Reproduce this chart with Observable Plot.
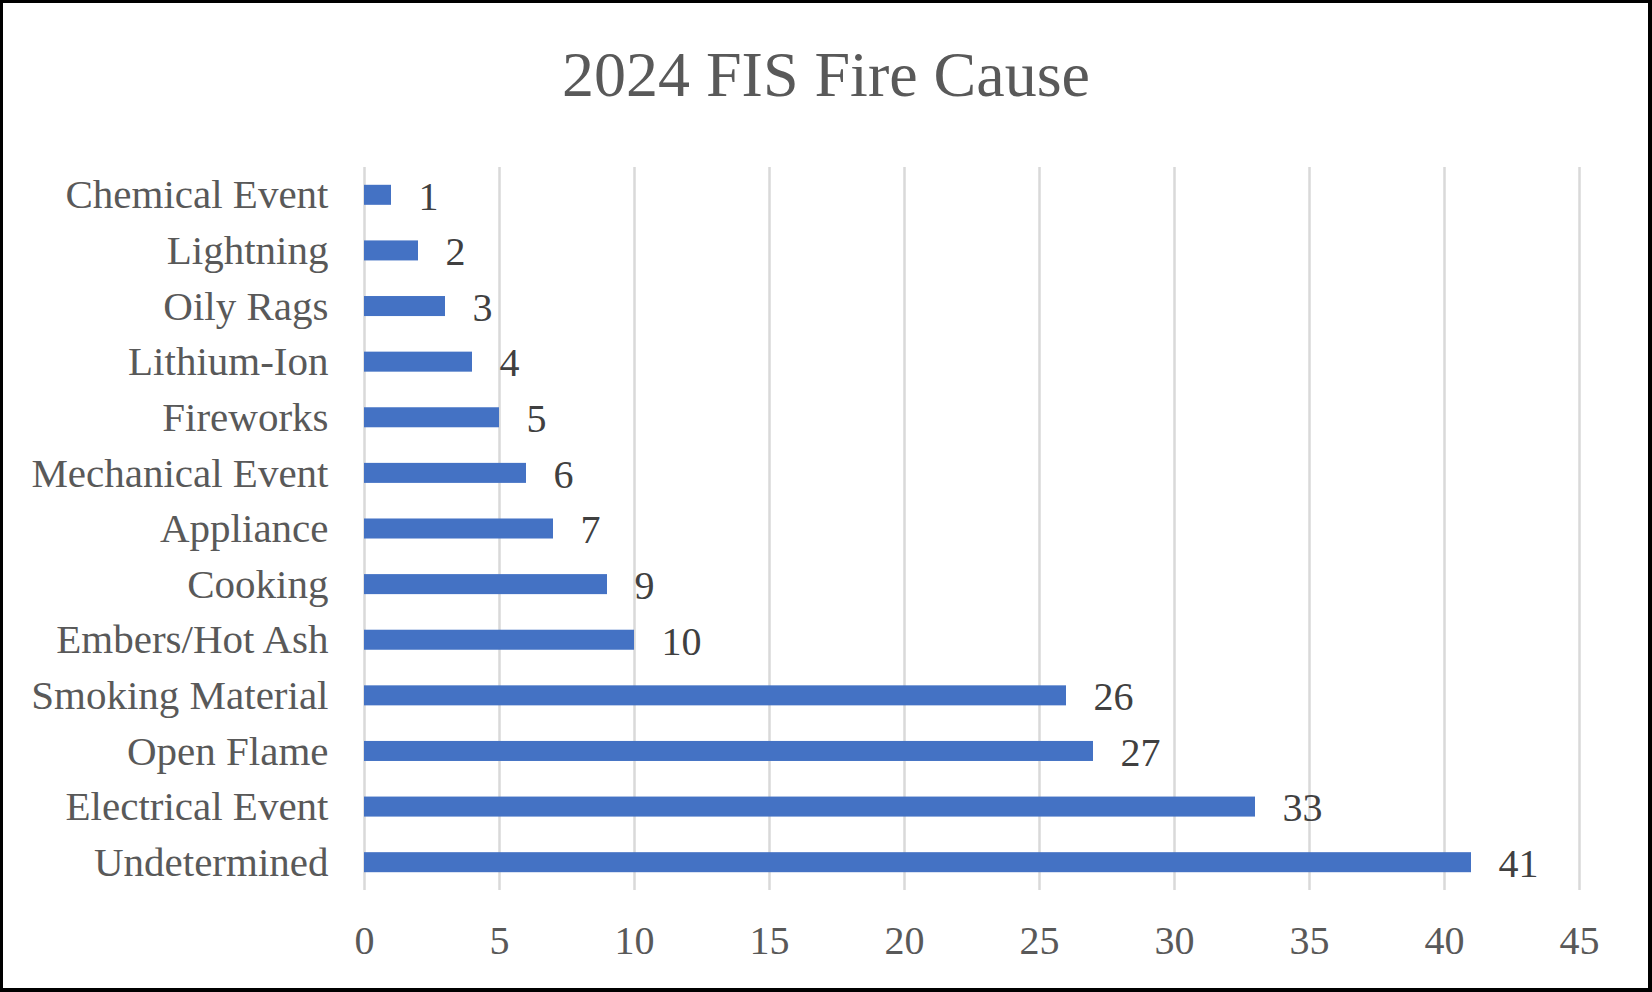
<!DOCTYPE html>
<html>
<head>
<meta charset="utf-8">
<script src="https://cdn.jsdelivr.net/npm/d3@7"></script>
<script src="https://cdn.jsdelivr.net/npm/@observablehq/plot@0.6"></script>
<style>
  html, body { margin: 0; padding: 0; background: #fff; }
  #wrap { position: relative; width: 1652px; height: 992px; background: #fff; overflow: hidden; }
  #frame { position: absolute; left: 0; top: 0; width: 1652px; height: 992px; box-sizing: border-box; border: 3px solid #000; border-right-width: 4px; border-bottom-width: 4px; pointer-events: none; }
  #title { position: absolute; left: 0; top: 43px; width: 1652px; height: 64px; line-height: 64px; text-align: center; font-family: "Liberation Serif", "Times New Roman", serif; font-size: 64px; color: #595959; }
  #chart { position: absolute; left: 0; top: 120px; }
</style>
</head>
<body>
<div id="wrap">
  <div id="title">2024 FIS Fire Cause</div>
  <div id="chart"></div>
  <div id="frame"></div>
</div>
<script>
const categories = ["Chemical Event", "Lightning", "Oily Rags", "Lithium-Ion", "Fireworks", "Mechanical Event", "Appliance", "Cooking", "Embers/Hot Ash", "Smoking Material", "Open Flame", "Electrical Event", "Undetermined"];
const counts = [1, 2, 3, 4, 5, 6, 7, 9, 10, 26, 27, 33, 41];
const xTicks = [0, 5, 10, 15, 20, 25, 30, 35, 40, 45];

const data = categories.map((c, i) => ({cause: c, count: counts[i]}));

const chart = Plot.plot({
  width: 1652,
  height: 872,
  marginLeft: 364,
  marginRight: 73,
  marginTop: 47,
  marginBottom: 102,
  style: { fontFamily: "Liberation Serif, Times New Roman, serif", fontSize: "40px", color: "#595959", background: "transparent" },
  x: { domain: [0, 45], ticks: xTicks },
  y: { domain: categories, paddingInner: 0.64, paddingOuter: 0.32, round: false },
  marks: [
    Plot.ruleX(xTicks, { stroke: "#d9d9d9", strokeWidth: 2.5 }),
    Plot.barX(data, { x: "count", y: "cause", fill: "#4472c4" }),
    Plot.text(data, { x: "count", y: "cause", text: d => String(d.count), textAnchor: "start", dx: 27, dy: 1.5, fill: "#404040", fontSize: 40 }),
    Plot.axisY({ tickSize: 0, tickPadding: 36, fontSize: 41, label: null }),
    Plot.axisX({ ticks: xTicks, tickSize: 0, tickPadding: 35, fontSize: 40, label: null })
  ]
});
document.getElementById("chart").appendChild(chart);
</script>
</body>
</html>
